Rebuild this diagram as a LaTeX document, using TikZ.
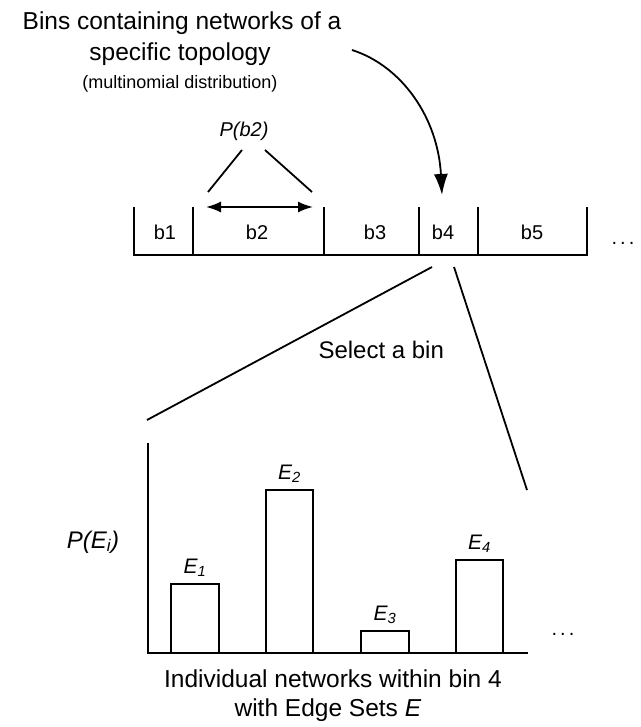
\documentclass[tikz,border=0pt]{standalone}
\usepackage{fontspec}
\setmainfont{Liberation Sans}
\usetikzlibrary{arrows.meta}

\begin{document}
\begin{tikzpicture}[
    x=1pt, y=-1pt,
    axis/.style={line width=2.8pt},
    thinline/.style={line width=1.8pt},
    bar/.style={draw, line width=1.9pt},
    binlabel/.style={font=\fontsize{20}{24}\selectfont},
    elabel/.style={font=\fontsize{21}{24}\selectfont\itshape, anchor=base},
    caption/.style={font=\fontsize{24.5}{29}\selectfont, anchor=base},
  ]

\useasboundingbox (0,0) rectangle (640,727);

\def\bintop{207}
\def\binbase{255}
\def\axisx{148}
\def\axisy{653}
\def\spdots{.\hspace{3pt}.\hspace{3pt}.}

  % Title
  \node[caption] (t1) at (182,30) {Bins containing networks of a};
  \node[caption] (t2) at (180,61) {specific topology};
  \node[caption, font=\fontsize{18}{21}\selectfont] (t3) at (180,89) {(multinomial distribution)};

  % Curved arrow into bin 4
  \coordinate (cs) at (352,50);
  \coordinate (ct) at (442,195);
  \draw[thinline, -{Latex[length=21pt,width=14pt]}] (cs) .. controls (402,66) and (438,118) .. (ct);

  % Bins
  \coordinate (base) at (0,\binbase);
  \foreach \i/\x in {0/134,1/193,2/324,3/419,4/478,5/587}
    \coordinate (d\i) at (\x,\bintop);
  \draw[axis] (d0) -- (d0 |- base) -- (d5 |- base) -- (d5);
  \foreach \i in {1,...,4}
    \draw[axis] (d\i) -- (d\i |- base);

  \foreach \n/\x in {1/165,2/257,3/375,4/443,5/532}
    \node[binlabel] (b\n) at (\x,232) {b\n};
  \node[binlabel, anchor=base] (bdots) at (623,244) {\spdots};

  % P(b2)
  \node[elabel, anchor=center, font=\fontsize{20}{24}\selectfont\itshape] (pb) at (244,131) {P(b2)};
  \coordinate (pbl) at (242,150);
  \coordinate (pbr) at (265,150);
  \coordinate (wl) at (206,207);
  \coordinate (wr) at (313,207);
  \draw[thinline] (pbl) -- (208,192);
  \draw[thinline] (pbr) -- (312,192);
  \draw[thinline, {Latex[length=15pt,width=11pt]}-{Latex[length=15pt,width=11pt]}] (wl) -- (wr);

  % Select a bin
  \coordinate (s1) at (432,267);
  \coordinate (s2) at (454,267);
  \coordinate (h1) at (147,420);
  \coordinate (h2) at (527,490);
  \draw[thinline] (s1) -- (h1);
  \draw[thinline] (s2) -- (h2);
  \node[caption, font=\fontsize{24}{29}\selectfont, anchor=base west] (sel) at (315,358) {Select a bin};

  % Histogram
  \draw[axis] (\axisx,443) -- (\axisx,\axisy) -- (528,\axisy);
  \foreach \n/\xa/\xb/\h in {1/171/219/584, 2/266/313/490, 3/361/409/631, 4/456/503/560}{
      \draw[bar] (\xa,\axisy) |- (\xb,\h) -- (\xb,\axisy);
      \node[elabel] (e\n) at ({(\xa+\xb)/2},\h-11) {E\textsubscript{\n}};
    }
  \node[binlabel, anchor=base] (hdots) at (563,635) {\spdots};
  \node[elabel, anchor=center, font=\fontsize{24}{29}\selectfont\itshape] (pe) at (93,542) {P(E\textsubscript{i})};

  % Caption
  \node[caption] (c1) at (333,687) {Individual networks within bin 4};
  \node[caption] (c2) at (328,716) {with Edge Sets \textit{E}};

\end{tikzpicture}
\end{document}
